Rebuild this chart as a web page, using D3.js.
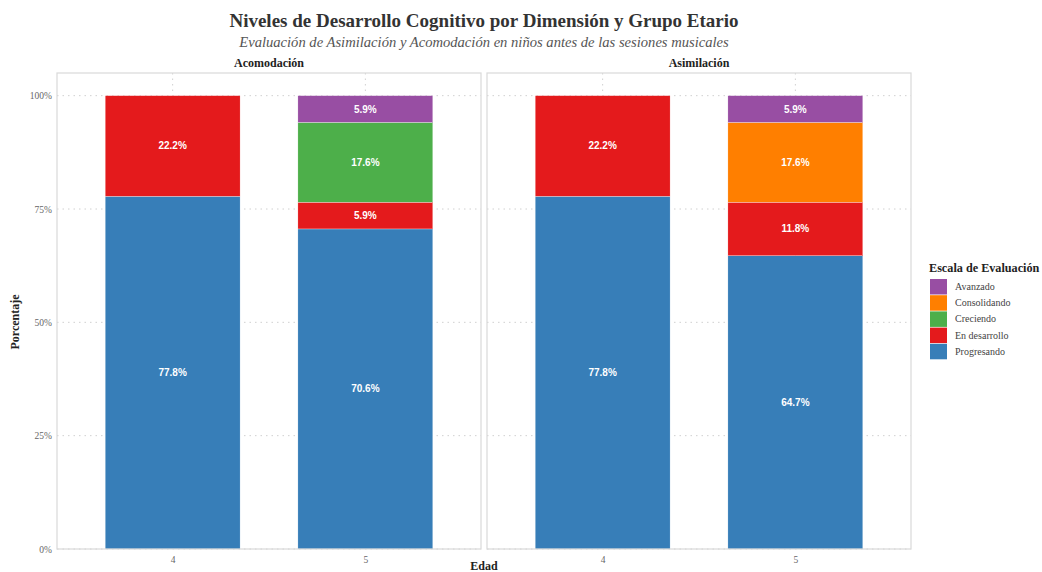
<!DOCTYPE html>
<html>
<head>
<meta charset="utf-8">
<script src="https://cdn.jsdelivr.net/npm/d3@7"></script>
<style>
  body { margin: 0; background: #fff; }
</style>
</head>
<body>
<div class="chart"></div>
<script>
// data
const panels = ['Acomodación', 'Asimilación']
const ages = ['4', '5']
const levels = ['Progresando', 'En desarrollo', 'Creciendo', 'Consolidando', 'Avanzado']
const acomodacion = [
  { edad: '4', 'Progresando': 77.8, 'En desarrollo': 22.2, 'Creciendo': 0, 'Consolidando': 0, 'Avanzado': 0 },
  { edad: '5', 'Progresando': 70.6, 'En desarrollo': 5.9, 'Creciendo': 17.6, 'Consolidando': 0, 'Avanzado': 5.9 }
]
const asimilacion = [
  { edad: '4', 'Progresando': 77.8, 'En desarrollo': 22.2, 'Creciendo': 0, 'Consolidando': 0, 'Avanzado': 0 },
  { edad: '5', 'Progresando': 64.7, 'En desarrollo': 11.8, 'Creciendo': 0, 'Consolidando': 17.6, 'Avanzado': 5.9 }
]
const yTicks = [0, 25, 50, 75, 100]
const legendOrder = ['Avanzado', 'Consolidando', 'Creciendo', 'En desarrollo', 'Progresando']

const colors = {
  'Avanzado': '#984EA3',
  'Consolidando': '#FF7F00',
  'Creciendo': '#4DAF4A',
  'En desarrollo': '#E41A1C',
  'Progresando': '#377EB8'
}

const serif = '"Liberation Serif", "Times New Roman", Times, serif'
const sans = '"Liberation Sans", Arial, Helvetica, sans-serif'

let w = 1042,
    h = 572,
    topY = 73,
    bottomY = 549

const panelX = [[57, 481], [487, 911]]
const panelData = [acomodacion, asimilacion]

const svg = d3.select('.chart')
              .append('svg')
              .attr('width', w)
              .attr('height', h)

const yScale = d3.scaleLinear()
                 .domain([0, 105])
                 .range([bottomY, topY])

const stack = d3.stack().keys(levels)

// title
svg.append('text')
   .attr('x', 484).attr('y', 27)
   .attr('text-anchor', 'middle')
   .style('font-family', serif)
   .style('font-size', '19px').style('font-weight', 'bold')
   .attr('fill', '#333')
   .text('Niveles de Desarrollo Cognitivo por Dimensión y Grupo Etario')
svg.append('text')
   .attr('x', 484).attr('y', 47)
   .attr('text-anchor', 'middle')
   .style('font-family', serif)
   .style('font-size', '14.6px').style('font-style', 'italic')
   .attr('fill', '#555')
   .text('Evaluación de Asimilación y Acomodación en niños antes de las sesiones musicales')

panels.forEach((name, i) => {
  const [x0, x1] = panelX[i]
  // ggplot style discrete scale: centers at 1 and 2 of [0.4, 2.6], bar width 0.7
  const xScale = d3.scaleLinear()
                   .domain([0.4, 2.6])
                   .range([x0, x1])
  const cx = (d) => xScale(ages.indexOf(d) + 1)
  const bw = xScale(1.35) - xScale(0.65)

  const g = svg.append('g')

  // grid
  g.selectAll('.hgrid')
   .data(yTicks)
   .enter()
   .append('line')
   .attr('x1', x0).attr('x2', x1)
   .attr('y1', (d) => yScale(d)).attr('y2', (d) => yScale(d))
   .attr('stroke', '#d0d0d0')
   .attr('stroke-dasharray', '1.5,4')
  g.selectAll('.vgrid')
   .data(ages)
   .enter()
   .append('line')
   .attr('x1', cx).attr('x2', cx)
   .attr('y1', topY).attr('y2', bottomY)
   .attr('stroke', '#d0d0d0')
   .attr('stroke-dasharray', '1.5,4')

  const series = stack(panelData[i])
  series.forEach((s) => {
    const segs = s.filter((d) => d[1] - d[0] > 0)
    g.selectAll(null)
     .data(segs)
     .enter()
     .append('rect')
     .attr('x', (d) => cx(d.data.edad) - bw / 2)
     .attr('width', bw)
     .attr('y', (d) => yScale(Math.min(d[1], 100)))
     .attr('height', (d) => yScale(d[0]) - yScale(Math.min(d[1], 100)))
     .attr('fill', colors[s.key])
     .attr('stroke', '#fff')
     .attr('stroke-width', 0.3)
    g.selectAll(null)
     .data(segs)
     .enter()
     .append('text')
     .attr('x', (d) => cx(d.data.edad))
     .attr('y', (d) => yScale((d[0] + d[1]) / 2) + 3.5)
     .attr('text-anchor', 'middle')
     .style('font-family', sans)
     .style('font-size', '10px').style('font-weight', 'bold')
     .attr('fill', '#fff')
     .text((d) => (d[1] - d[0]).toFixed(1) + '%')
  })

  // panel border
  g.append('rect')
   .attr('x', x0).attr('y', topY)
   .attr('width', x1 - x0).attr('height', bottomY - topY)
   .attr('fill', 'none')
   .attr('stroke', '#d9d9d9')
   .attr('stroke-width', 1.2)

  // strip label
  g.append('text')
   .attr('x', (x0 + x1) / 2).attr('y', 67)
   .attr('text-anchor', 'middle')
   .style('font-family', serif)
   .style('font-size', '12px').style('font-weight', 'bold')
   .attr('fill', '#222')
   .text(name)

  // x axis
  const xAxis = d3.axisBottom(d3.scalePoint().domain(ages).range([cx('4'), cx('5')]))
                  .tickSize(0).tickPadding(7)
  const ax = g.append('g')
              .attr('transform', `translate(0,${bottomY})`)
              .call(xAxis)
  ax.select('.domain').remove()
  ax.selectAll('text')
    .style('font-family', serif)
    .style('font-size', '9.5px').attr('fill', '#666')
})

// y axis
const yAxis = d3.axisLeft(yScale)
                .tickValues(yTicks)
                .tickFormat((d) => d + '%')
                .tickSize(0).tickPadding(5)
const ay = svg.append('g')
              .attr('transform', `translate(${panelX[0][0]},0)`)
              .call(yAxis)
ay.select('.domain').remove()
ay.selectAll('text')
  .style('font-family', serif)
  .style('font-size', '9.5px').attr('fill', '#666')

// axis titles
svg.append('text')
   .attr('x', 484).attr('y', 570)
   .attr('text-anchor', 'middle')
   .style('font-family', serif)
   .style('font-size', '12px').style('font-weight', 'bold')
   .attr('fill', '#222')
   .text('Edad')
svg.append('text')
   .attr('transform', 'translate(19,322) rotate(-90)')
   .attr('text-anchor', 'middle')
   .style('font-family', serif)
   .style('font-size', '12px').style('font-weight', 'bold')
   .attr('fill', '#222')
   .text('Porcentaje')

// legend
const legend = svg.append('g')
                  .attr('id', 'legend')
legend.append('text')
      .attr('x', 929).attr('y', 272)
      .style('font-family', serif)
      .style('font-size', '12.2px').style('font-weight', 'bold')
      .attr('fill', '#222')
      .text('Escala de Evaluación')
legend.selectAll('rect')
      .data(legendOrder)
      .enter()
      .append('rect')
      .attr('x', 930)
      .attr('y', (d, i) => 279 + i * 16.2)
      .attr('width', 17).attr('height', 15.5)
      .attr('fill', (d) => colors[d])
legend.selectAll('.lab')
      .data(legendOrder)
      .enter()
      .append('text')
      .attr('x', 955)
      .attr('y', (d, i) => 290 + i * 16.2)
      .style('font-family', serif)
      .style('font-size', '10px')
      .attr('fill', '#444')
      .text((d) => d)
</script>
</body>
</html>
